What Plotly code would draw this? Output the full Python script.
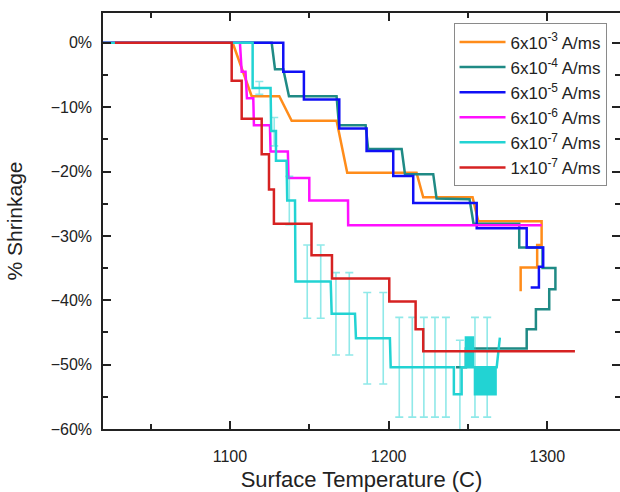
import plotly.graph_objects as go

# Sintering shrinkage (%) versus surface temperature (C) for each current density.
# Vertices are listed in measurement order (the curves turn back on cooling).
orange_t = [1015, 1101.7, 1113.7, 1131.1, 1138.9, 1167.2, 1173.9, 1217.6, 1221.8, 1252.9, 1256.5,
            1296.4, 1296.4, 1293.6, 1293.6, 1283.2, 1283.2]
orange_s = [0, 0, -8.3, -8.3, -12.1, -12.1, -20.2, -20.2, -24.0, -24.0, -27.7,
            -27.7, -31.4, -31.4, -34.9, -34.9, -38.6]

teal_t = [1015, 1126.3, 1128.4, 1133.6, 1137.2, 1167.2, 1168.7, 1185.5, 1187.1, 1208.2, 1210.3,
          1228.1, 1230.2, 1251.0, 1253.5, 1282.3, 1282.3, 1297.0, 1297.0, 1305.1, 1305.1,
          1301.2, 1301.2, 1292.8, 1292.8, 1287.0, 1287.0, 1270.1, 1248.7, 1248.7, 1242.4]
teal_s = [0, 0, -4.1, -4.1, -8.3, -8.3, -12.8, -12.8, -16.5, -16.5, -20.4,
          -20.4, -24.2, -24.3, -28.1, -28.1, -31.8, -31.8, -35.0, -35.0, -38.3,
          -38.3, -41.4, -41.4, -44.5, -44.5, -47.5, -47.5, -47.5, -50.4, -50.4]

blue_t = [1015, 1133.6, 1133.6, 1146.6, 1146.6, 1168.9, 1168.9, 1186.1, 1186.1, 1202.9, 1202.9,
          1215.5, 1215.5, 1255.5, 1255.5, 1287.0, 1287.0, 1297.4, 1297.4, 1294.7, 1294.7, 1289.5]
blue_s = [0, 0, -4.5, -4.5, -8.8, -8.8, -13.3, -13.3, -16.8, -16.8, -20.7,
          -20.7, -24.9, -24.9, -28.8, -28.8, -31.8, -31.8, -34.8, -34.8, -38.0, -38.0]

magenta_t = [1015, 1106.3, 1107.4, 1109.8, 1110.7, 1114.7, 1115.1, 1125.2, 1125.6, 1136.5,
             1136.9, 1150.0, 1150.0, 1174.4, 1174.5, 1296.4]
magenta_s = [0, 0, -4.5, -4.5, -8.6, -8.6, -12.8, -12.8, -16.9, -16.9,
             -21.0, -21.0, -24.5, -24.5, -28.35, -28.35]

cyan_t = [1015, 1114.3, 1114.3, 1125.6, 1126.0, 1129.0, 1129.0, 1135.7, 1136.1, 1141.0, 1141.3,
          1163.5, 1164.1, 1178.8, 1179.4, 1200.8, 1201.3, 1241.1, 1241.1, 1246.0, 1246.0,
          1248.7, 1248.7, 1249.6, 1249.6, 1250.5, 1250.5, 1251.4, 1251.4, 1252.3, 1252.3,
          1253.1, 1253.1, 1254.4, 1254.4, 1255.4, 1255.4, 1256.4, 1256.4, 1257.4, 1257.4,
          1258.4, 1258.4, 1259.4, 1259.4, 1260.4, 1260.4, 1261.4, 1261.4, 1262.4, 1262.4,
          1263.4, 1263.4, 1264.4, 1264.4, 1265.4, 1265.4, 1266.4, 1266.4, 1267.4, 1267.4,
          1268.1, 1270.1]
cyan_s = [0, 0, -7.0, -7.0, -13.7, -13.7, -18.3, -18.3, -24.5, -24.5, -37.1,
          -37.1, -42.1, -42.1, -45.9, -45.9, -50.4, -50.4, -54.6, -54.6, -50.4,
          -50.4, -45.8, -45.8, -50.4, -50.4, -45.8, -45.8, -50.4, -50.4, -45.8,
          -45.8, -50.4, -50.4, -54.6, -54.6, -50.4, -50.4, -54.6, -54.6, -50.4,
          -50.4, -54.6, -54.6, -50.4, -50.4, -54.6, -54.6, -50.4, -50.4, -54.6,
          -54.6, -50.4, -50.4, -54.6, -54.6, -50.4, -50.4, -54.6, -54.6, -50.4,
          -50.4, -45.8]

# Scatter of the repeated 6x10^-7 A/ms runs (mean and half-range)
err_t = [1118.5, 1127.9, 1137.4, 1148.7, 1157.2, 1166.8, 1175.2, 1186.5, 1196.6, 1206.7,
         1214.9, 1222.2, 1229.2, 1236.1, 1244.9, 1254.4, 1262.1]
err_s = [-7.0, -13.8, -24.5, -37.1, -37.1, -42.1, -42.1, -45.9, -45.9, -50.4,
         -50.4, -50.4, -50.4, -50.4, -54.6, -50.4, -50.4]
err_e = [1.0, 2.2, 3.75, 5.7, 5.7, 6.4, 6.4, 7.1, 7.1, 7.75,
         7.75, 7.75, 7.75, 7.75, 8.4, 7.75, 7.75]

red_t = [1027.5, 1101.1, 1101.1, 1107.4, 1107.4, 1120.0, 1120.0, 1124.6, 1124.6, 1127.7, 1127.7,
         1151.4, 1151.4, 1164.3, 1164.3, 1200.4, 1200.4, 1217.0, 1217.0, 1221.8, 1221.8, 1317.4]
red_s = [0, 0, -5.9, -5.9, -11.8, -11.8, -17.3, -17.3, -22.8, -22.8, -28.1,
         -28.1, -33.0, -33.0, -36.6, -36.6, -40.2, -40.2, -44.5, -44.5, -47.9, -47.9]

labels = ["6x10<sup>-3</sup> A/ms", "6x10<sup>-4</sup> A/ms", "6x10<sup>-5</sup> A/ms",
          "6x10<sup>-6</sup> A/ms", "6x10<sup>-7</sup> A/ms", "1x10<sup>-7</sup> A/ms"]
colors = ["#FF8C1A", "#1F8A85", "#1010F5", "#FF10FF", "#22D3D3", "#D62222"]

FONT = "Arial, 'Liberation Sans', sans-serif"
LW = 2.5
X_RANGE = [1020, 1345.8]
Y_RANGE = [-60, 4.64]

fig = go.Figure()

series = [(orange_t, orange_s), (teal_t, teal_s), (blue_t, blue_s), (magenta_t, magenta_s)]
for (t, s), name, col in zip(series, labels[:4], colors[:4]):
    fig.add_trace(go.Scatter(x=t, y=s, mode="lines", name=name,
                             line=dict(color=col, width=LW)))

fig.add_trace(go.Scatter(
    x=err_t, y=err_s, mode="markers", showlegend=False, hoverinfo="skip",
    marker=dict(size=1, opacity=0, color=colors[4]),
    error_y=dict(type="data", array=err_e, visible=True,
                 color="rgba(34,211,211,0.5)", thickness=1.6, width=4)))

fig.add_trace(go.Scatter(x=cyan_t, y=cyan_s, mode="lines", name=labels[4],
                         line=dict(color=colors[4], width=LW)))
fig.add_trace(go.Scatter(x=red_t, y=red_s, mode="lines", name=labels[5],
                         line=dict(color=colors[5], width=LW)))

tick_style = dict(ticks="inside", ticklen=8, tickwidth=1.5, tickcolor="#222")
tick_font = dict(family=FONT, size=16, color="#222")

fig.update_xaxes(
    range=X_RANGE, tick0=1000, dtick=100,
    showline=True, linecolor="#222", linewidth=1.5, mirror="ticks",
    showgrid=False, zeroline=False, tickfont=tick_font, **tick_style,
    minor=dict(ticks="inside", ticklen=5, tickwidth=1.5, tickcolor="#222", dtick=50, tick0=1000),
    title=dict(text="Surface Temperature (C)", font=dict(family=FONT, size=22, color="#222"),
               standoff=12),
    ticklabelstandoff=12,
)
fig.update_yaxes(
    range=Y_RANGE, tick0=0, dtick=10, ticksuffix="%",
    showline=True, linecolor="#222", linewidth=1.5, mirror=False,
    showgrid=False, zeroline=False, tickfont=tick_font, **tick_style,
    minor=dict(ticks="inside", ticklen=5, tickwidth=1.5, tickcolor="#222", dtick=5, tick0=0),
    title=dict(text="% Shrinkage", font=dict(family=FONT, size=21, color="#222"), standoff=22),
    ticklabelstandoff=6,
)

# Right-hand frame ticks only (the frame edge itself sits at the page border)
fig.update_layout(
    yaxis2=dict(
        overlaying="y", side="right", anchor="x", range=Y_RANGE, tick0=0, dtick=10,
        showline=False, showgrid=False, zeroline=False, showticklabels=False,
        **tick_style,
        minor=dict(ticks="inside", ticklen=5, tickwidth=1.5, tickcolor="#222", dtick=5, tick0=0),
    )
)
fig.add_trace(go.Scatter(x=[X_RANGE[0]], y=[Y_RANGE[0]], yaxis="y2", mode="markers",
                         marker=dict(size=1, opacity=0), showlegend=False, hoverinfo="skip"))

fig.update_layout(
    width=620, height=492,
    margin=dict(l=103, r=0, t=13, b=60),
    paper_bgcolor="white", plot_bgcolor="white",
    font=dict(family=FONT, color="#222"),
    legend=dict(
        x=0.678, y=0.975, xanchor="left", yanchor="top",
        bgcolor="white", bordercolor="#8a8a8a", borderwidth=1,
        font=dict(family=FONT, size=17, color="#222"),
        tracegroupgap=0, itemwidth=46,
    ),
)

fig.write_html("out.html")
